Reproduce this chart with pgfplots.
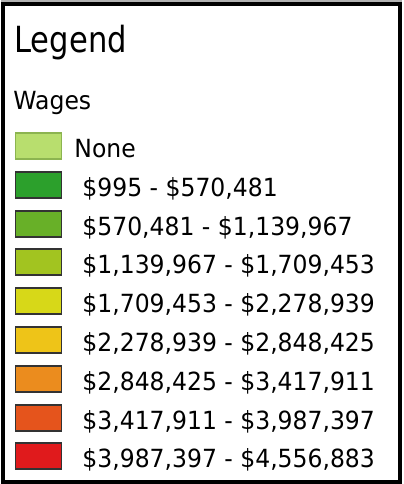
\documentclass[border=0pt]{standalone}
\usepackage{pgfplots}
\pgfplotsset{compat=1.18}
\usepackage{fontspec}
\usepackage{graphicx}
\setmainfont{DejaVu Sans}
\definecolor{cNone}{RGB}{184,222,110}
\definecolor{cNoneB}{RGB}{140,180,80}
\definecolor{cA}{RGB}{44,160,44}
\definecolor{cB}{RGB}{104,176,40}
\definecolor{cC}{RGB}{162,196,32}
\definecolor{cD}{RGB}{215,216,24}
\definecolor{cE}{RGB}{238,196,24}
\definecolor{cF}{RGB}{235,140,30}
\definecolor{cG}{RGB}{229,84,28}
\definecolor{cH}{RGB}{224,26,28}
\newcommand{\lbl}[1]{\fontsize{25}{30}\selectfont\scalebox{0.94}[1]{#1}}
\begin{document}
\begin{tikzpicture}
\begin{axis}[
  width=401pt, height=484pt, scale only axis,
  xmin=0, xmax=401, ymin=0, ymax=484, y dir=reverse,
  hide axis, clip=false,
]
% background
\addplot[fill=white, draw=none] coordinates {(0,0)(401,0)(401,484)(0,484)} -- cycle;
% swatches (x from 14 to 60, height 26)
\addplot[fill=cNone, draw=cNoneB, line width=1.3pt] coordinates {(14,133)(60,133)(60,159)(14,159)} -- cycle;
\addplot[fill=cA, draw=black!80, line width=1.3pt] coordinates {(14,172)(60,172)(60,198)(14,198)} -- cycle;
\addplot[fill=cB, draw=black!80, line width=1.3pt] coordinates {(14,211)(60,211)(60,237)(14,237)} -- cycle;
\addplot[fill=cC, draw=black!80, line width=1.3pt] coordinates {(14,249)(60,249)(60,275)(14,275)} -- cycle;
\addplot[fill=cD, draw=black!80, line width=1.3pt] coordinates {(14,288)(60,288)(60,314)(14,314)} -- cycle;
\addplot[fill=cE, draw=black!80, line width=1.3pt] coordinates {(14,327)(60,327)(60,353)(14,353)} -- cycle;
\addplot[fill=cF, draw=black!80, line width=1.3pt] coordinates {(14,366)(60,366)(60,392)(14,392)} -- cycle;
\addplot[fill=cG, draw=black!80, line width=1.3pt] coordinates {(14,405)(60,405)(60,431)(14,431)} -- cycle;
\addplot[fill=cH, draw=black!80, line width=1.3pt] coordinates {(14,443)(60,443)(60,469)(14,469)} -- cycle;
% frame
\addplot[draw=black, line width=4pt] coordinates {(2,4.5)(399,4.5)(399,482)(2,482)} -- cycle;
\addplot[draw=gray!60, line width=2.5pt] coordinates {(0,1.25)(401,1.25)};
% texts
\node[anchor=base west, inner sep=0pt] at (axis cs:13,53) {\fontsize{36}{40}\selectfont\scalebox{0.85}[1]{Legend}};
\node[anchor=base west, inner sep=0pt] at (axis cs:12,110) {\lbl{Wages}};
\node[anchor=base west, inner sep=0pt] at (axis cs:73,157) {\lbl{None}};
\node[anchor=base west, inner sep=0pt] at (axis cs:81,196) {\lbl{\$995 - \$570,481}};
\node[anchor=base west, inner sep=0pt] at (axis cs:81,235) {\lbl{\$570,481 - \$1,139,967}};
\node[anchor=base west, inner sep=0pt] at (axis cs:81,273) {\lbl{\$1,139,967 - \$1,709,453}};
\node[anchor=base west, inner sep=0pt] at (axis cs:81,312) {\lbl{\$1,709,453 - \$2,278,939}};
\node[anchor=base west, inner sep=0pt] at (axis cs:81,351) {\lbl{\$2,278,939 - \$2,848,425}};
\node[anchor=base west, inner sep=0pt] at (axis cs:81,390) {\lbl{\$2,848,425 - \$3,417,911}};
\node[anchor=base west, inner sep=0pt] at (axis cs:81,429) {\lbl{\$3,417,911 - \$3,987,397}};
\node[anchor=base west, inner sep=0pt] at (axis cs:81,467) {\lbl{\$3,987,397 - \$4,556,883}};
\end{axis}
\end{tikzpicture}
\end{document}
